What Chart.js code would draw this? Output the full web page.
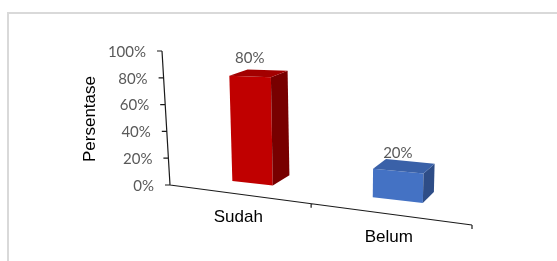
<!DOCTYPE html>
<html>
<head>
<meta charset="utf-8">
<script src="https://cdn.jsdelivr.net/npm/chart.js@4.4.1/dist/chart.umd.min.js"></script>
<style>
  html, body { margin: 0; padding: 0; background: #fff; }
  #wrap { position: relative; width: 557px; height: 261px; overflow: hidden; }
  #frame { position: absolute; left: 7px; top: 12px; width: 700px; height: 400px;
           border-top: 2px solid #d9d9d9; border-left: 2px solid #d9d9d9; }
  canvas { position: absolute; left: 0; top: 0; }
</style>
</head>
<body>
<div id="wrap">
  <div id="frame"></div>
  <canvas id="chart" width="557" height="261"></canvas>
</div>
<script>
// data
const categories = ['Sudah', 'Belum'];
const values = [0.8, 0.2];
const valueLabels = ['80%', '20%'];
const yTicks = [0, 0.2, 0.4, 0.6, 0.8, 1];
const yTitle = 'Persentase';

// colours: front, side, top
const barColors = [
  ['#c00000', '#780000', '#a30000'],
  ['#4472c4', '#2e4d87', '#3a61a8']
];

// perspective frame (layout only)
const frontQuad = [[190.2, 176], [482.9, 210], [489.6, 51.7], [185, 48.1]]; // bar front plane: bl, br, tr, tl
const depthVP = [722, -96];
const depthT = 0.037;
const yAxisLine = [[170, 185], [162, 51]];
const xAxisLine = [[170, 185], [472, 225]];
const xAxisPersp = 1.14;

function squareToQuad(p) {
  const [x0, y0] = p[0], [x1, y1] = p[1], [x2, y2] = p[2], [x3, y3] = p[3];
  const dx1 = x1 - x2, dx2 = x3 - x2, dx3 = x0 - x1 + x2 - x3;
  const dy1 = y1 - y2, dy2 = y3 - y2, dy3 = y0 - y1 + y2 - y3;
  const det = dx1 * dy2 - dx2 * dy1;
  const g = (dx3 * dy2 - dx2 * dy3) / det;
  const h = (dx1 * dy3 - dx3 * dy1) / det;
  const a = x1 - x0 + g * x1, b = x3 - x0 + h * x3, c = x0;
  const d = y1 - y0 + g * y1, e = y3 - y0 + h * y3, f = y0;
  return (u, v) => {
    const w = g * u + h * v + 1;
    return [(a * u + b * v + c) / w, (d * u + e * v + f) / w];
  };
}
const front = squareToQuad(frontQuad);
const back = p => [p[0] + (depthVP[0] - p[0]) * depthT, p[1] + (depthVP[1] - p[1]) * depthT];
const lerp = (line, t) => [line[0][0] + (line[1][0] - line[0][0]) * t, line[0][1] + (line[1][1] - line[0][1]) * t];
const xAxisAt = u => lerp(xAxisLine, u / (u + xAxisPersp * (1 - u)));

function poly(ctx, pts, color) {
  ctx.beginPath();
  ctx.moveTo(pts[0][0], pts[0][1]);
  pts.slice(1).forEach(p => ctx.lineTo(p[0], p[1]));
  ctx.closePath();
  ctx.fillStyle = color;
  ctx.fill();
}

const bars3d = {
  id: 'bars3d',
  afterDatasetsDraw(chart) {
    const ctx = chart.ctx;
    const area = chart.chartArea;
    const U = x => (x - area.left) / (area.right - area.left);
    const V = y => (area.bottom - y) / (area.bottom - area.top);
    const meta = chart.getDatasetMeta(0);

    ctx.save();
    // axes
    ctx.strokeStyle = '#1a1a1a';
    ctx.lineWidth = 1.2;
    ctx.beginPath();
    ctx.moveTo(...yAxisLine[0]); ctx.lineTo(...yAxisLine[1]);
    ctx.moveTo(...xAxisLine[0]); ctx.lineTo(...xAxisLine[1]);
    yTicks.forEach(t => {
      const p = lerp(yAxisLine, V(chart.scales.y.getPixelForValue(t)));
      ctx.moveTo(p[0] - 5, p[1]); ctx.lineTo(p[0], p[1]);
    });
    [0.5, 1].forEach(t => {
      const p = xAxisAt(t);
      ctx.moveTo(p[0], p[1]); ctx.lineTo(p[0], p[1] + 4);
    });
    ctx.stroke();

    // y tick labels
    ctx.font = '15px Lato';
    ctx.fillStyle = '#595959';
    ctx.textAlign = 'right';
    ctx.textBaseline = 'middle';
    yTicks.forEach(t => {
      const p = lerp(yAxisLine, V(chart.scales.y.getPixelForValue(t)));
      ctx.fillText(Math.round(t * 100) + '%', p[0] - 16, p[1] + 1);
    });

    // y title
    ctx.save();
    ctx.translate(90, 119);
    ctx.rotate(-Math.PI / 2);
    ctx.font = '17px "Liberation Sans"';
    ctx.fillStyle = '#000';
    ctx.textAlign = 'center';
    ctx.fillText(yTitle, 0, 0);
    ctx.restore();

    // category labels
    ctx.font = '17px "Liberation Sans"';
    ctx.fillStyle = '#000';
    ctx.textAlign = 'center';
    categories.forEach((c, i) => {
      const p = xAxisAt(U(chart.scales.x.getPixelForValue(i)));
      ctx.fillText(c, p[0], p[1] + 23);
    });

    // bars
    meta.data.forEach((bar, i) => {
      const u0 = U(bar.x - bar.width / 2), u1 = U(bar.x + bar.width / 2);
      const v0 = V(bar.base), v1 = V(bar.y);
      const fbl = front(u0, v0), fbr = front(u1, v0), ftr = front(u1, v1), ftl = front(u0, v1);
      const btr = back(ftr), btl = back(ftl), bbr = back(fbr);
      const [cFront, cSide, cTop] = barColors[i];
      poly(ctx, [fbl, fbr, ftr, ftl], cFront);
      poly(ctx, [fbr, ftr, btr, bbr], cSide);
      poly(ctx, [ftl, ftr, btr, btl], cTop);

      const top = front((u0 + u1) / 2, v1);
      ctx.font = '15px Lato';
      ctx.fillStyle = '#595959';
      ctx.textAlign = 'center';
      ctx.textBaseline = 'middle';
      ctx.fillText(valueLabels[i], top[0], top[1] - 18);
    });
    ctx.restore();
  }
};

new Chart(document.getElementById('chart').getContext('2d'), {
  type: 'bar',
  data: {
    labels: categories,
    datasets: [{
      data: values,
      backgroundColor: 'rgba(0,0,0,0)',
      borderWidth: 0,
      categoryPercentage: 1,
      barPercentage: 0.31
    }]
  },
  options: {
    responsive: false,
    animation: false,
    events: [],
    layout: { padding: 0 },
    scales: {
      x: { display: false },
      y: { display: false, min: 0, max: 1 }
    },
    plugins: {
      legend: { display: false },
      tooltip: { enabled: false }
    }
  },
  plugins: [bars3d]
});
</script>
</body>
</html>
